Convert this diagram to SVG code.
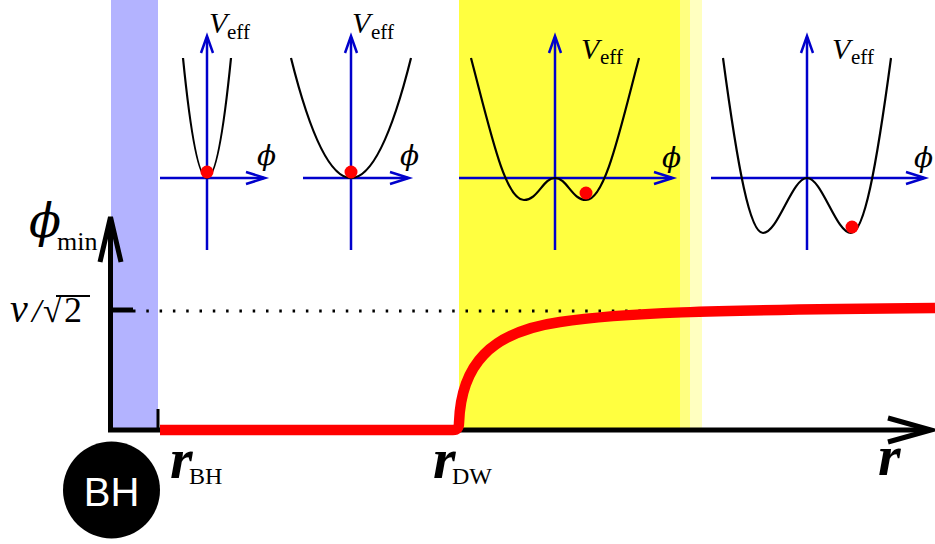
<svg xmlns="http://www.w3.org/2000/svg" width="935" height="544" viewBox="0 0 935 544">
<style>
.ser{font-family:"Liberation Serif","Times New Roman",serif;fill:#000}
.it{font-style:italic}
.phi{font-family:"DejaVu Serif","Liberation Serif",serif;font-style:italic;fill:#000}
.bax{stroke:#0000cc;stroke-width:2.5;fill:none}
.pot{stroke:#000;stroke-width:2.2;fill:none}
.dot{fill:#ff0000}
.kax{stroke:#000;stroke-width:5;fill:none}
</style>
<rect width="935" height="544" fill="#ffffff"/>
<g id="bands">
<rect x="111" y="0" width="47" height="431" fill="#b3b3ff"/>
<rect x="459" y="0" width="221" height="431" fill="#ffff40"/>
<rect x="680" y="0" width="10" height="431" fill="#ffff80"/>
<rect x="690" y="0" width="12" height="431" fill="#ffffc0"/>
</g>
<g id="main-axes">
<line class="kax" x1="110.5" y1="431" x2="110.5" y2="220"/>
<path class="kax" d="M100,262 L110.5,217 L121,262" stroke-linejoin="miter"/>
<line class="kax" x1="108" y1="430" x2="930" y2="430"/>
<path class="kax" d="M888,418 L931,430 L888,442"/>
<line x1="158" y1="409" x2="158" y2="431" stroke="#000" stroke-width="3"/>
<line class="kax" x1="111" y1="310" x2="133" y2="310"/>
<line x1="133" y1="311" x2="648" y2="311" stroke="#000" stroke-width="3" stroke-dasharray="2.5 10.8"/>
</g>
<g id="red-curve">
<path d="M160,430 H453 Q459,430 459,423 C 461,365 490,332 560,322 C 620,313 700,310 935,308" fill="none" stroke="#ff0000" stroke-width="10.5" stroke-linejoin="round"/>
</g>
<g id="plot1">
<line class="bax" x1="207" y1="250" x2="207" y2="37"/>
<path class="bax" d="M201,53 L207,36 L213,53"/>
<line class="bax" x1="160" y1="178" x2="264" y2="178"/>
<path class="bax" d="M246,172 L265,178 L246,184"/>
<path class="pot" d="M183,58 Q207,298 231,58"/>
<circle class="dot" cx="207" cy="172" r="6.5"/>
<text class="ser it" x="209" y="33" font-size="30">V</text>
<text class="ser" x="227" y="39" font-size="21">eff</text>
<text class="phi" x="257" y="165" font-size="28">ϕ</text>
</g>
<g id="plot2">
<line class="bax" x1="351" y1="250" x2="351" y2="37"/>
<path class="bax" d="M345,53 L351,36 L357,53"/>
<line class="bax" x1="303" y1="178" x2="408" y2="178"/>
<path class="bax" d="M390,172 L409,178 L390,184"/>
<path class="pot" d="M291,58 Q351,298 411,58"/>
<circle class="dot" cx="351" cy="172" r="6.5"/>
<text class="ser it" x="352" y="33" font-size="30">V</text>
<text class="ser" x="371" y="39" font-size="21">eff</text>
<text class="phi" x="400" y="165" font-size="28">ϕ</text>
</g>
<g id="plot3">
<line class="bax" x1="555" y1="250" x2="555" y2="37"/>
<path class="bax" d="M549,53 L555,36 L561,53"/>
<line class="bax" x1="459" y1="178" x2="672" y2="178"/>
<path class="bax" d="M654,172 L673,178 L654,184"/>
<path class="pot" d="M471,58 C 490,130 505,200 524,200 C 538,200 543,178 555,178 C 567,178 572,200 586,200 C 605,200 620,130 639,58"/>
<circle class="dot" cx="586" cy="193" r="6.5"/>
<text class="ser it" x="581" y="59" font-size="30">V</text>
<text class="ser" x="600" y="64" font-size="21">eff</text>
<text class="phi" x="662" y="167" font-size="28">ϕ</text>
</g>
<g id="plot4">
<line class="bax" x1="807" y1="250" x2="807" y2="37"/>
<path class="bax" d="M801,53 L807,36 L813,53"/>
<line class="bax" x1="711" y1="178" x2="924" y2="178"/>
<path class="bax" d="M906,172 L925,178 L906,184"/>
<path class="pot" d="M723,58 C 738,170 750,233 763,233 C 778,233 792,178 807,178 C 822,178 836,233 851,233 C 864,233 876,170 891,58"/>
<circle class="dot" cx="852" cy="227" r="6.5"/>
<text class="ser it" x="832" y="59" font-size="30">V</text>
<text class="ser" x="851" y="64" font-size="21">eff</text>
<text class="phi" x="914" y="167" font-size="28">ϕ</text>
</g>
<g id="labels">
<text class="phi" x="29" y="237" font-size="47">ϕ</text>
<text class="ser" x="57" y="250" font-size="26">min</text>
<text class="ser it" x="10" y="322" font-size="40">v</text>
<text class="ser it" x="32" y="322" font-size="34">/</text>
<text class="ser" x="43" y="322" font-size="34">√</text>
<line x1="56" y1="296" x2="90" y2="296" stroke="#000" stroke-width="1.8"/>
<text class="ser" x="64" y="322" font-size="36">2</text>
<text class="ser it" x="170" y="478" font-size="58" font-weight="bold">r</text>
<text class="ser" x="189" y="484" font-size="24">BH</text>
<text class="ser it" x="433" y="478" font-size="58" font-weight="bold">r</text>
<text class="ser" x="452" y="484" font-size="24">DW</text>
<text class="ser it" x="878" y="475" font-size="58" font-weight="bold">r</text>
</g>
<g id="bh">
<circle cx="111.5" cy="490" r="48.5" fill="#000"/>
<text x="111.5" y="506" font-size="40" text-anchor="middle" font-family="Liberation Sans,Arial,sans-serif" fill="#ffffff">BH</text>
</g>
</svg>
